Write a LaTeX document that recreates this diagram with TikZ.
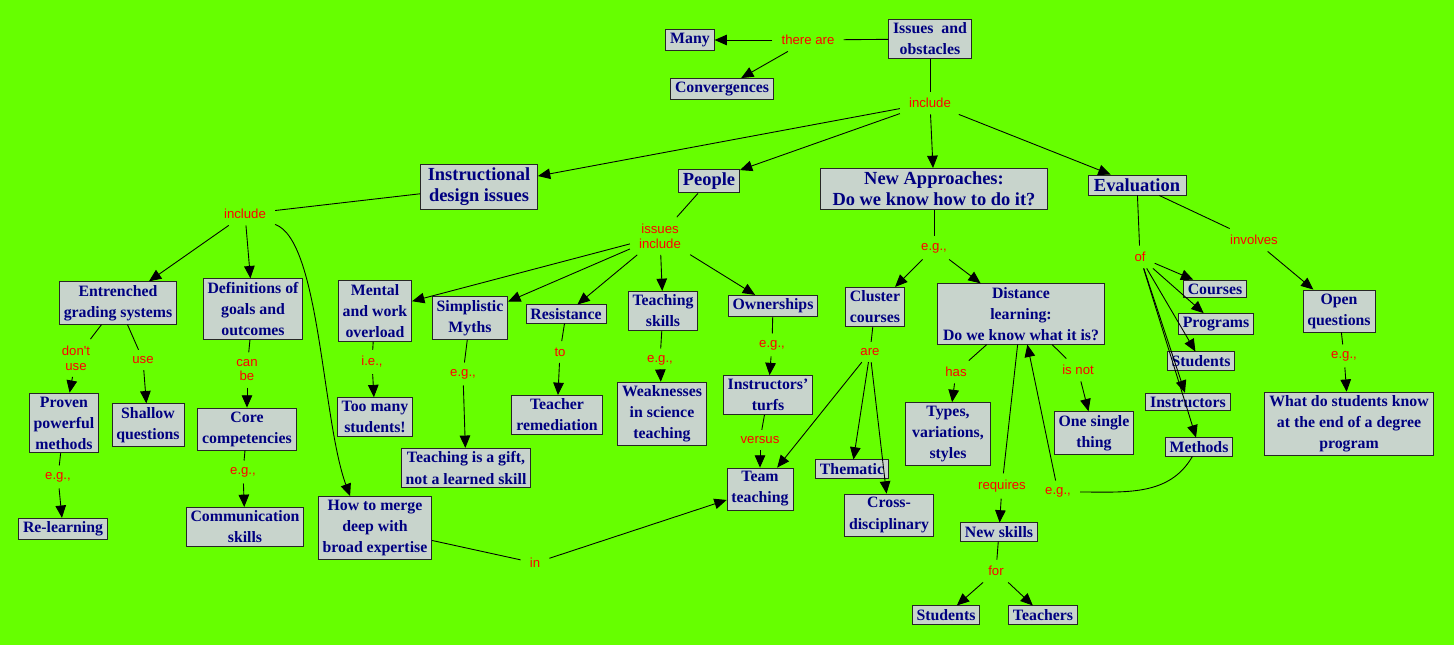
\documentclass[tikz,border=0pt]{standalone}
\usepackage{fontspec}
\setmainfont{Liberation Serif}
\newfontfamily\linkfont{Liberation Sans}
\usetikzlibrary{arrows.meta}
\definecolor{mapgreen}{RGB}{102,255,0}
\definecolor{conceptgrey}{RGB}{200,212,204}
\definecolor{conceptblue}{RGB}{0,0,128}

\tikzset{
  concept/.style={draw=black!85, fill=conceptgrey, text=conceptblue, align=center,
    font=\bfseries\fontsize{9}{12}\selectfont, inner xsep=2.5pt, inner ysep=2pt},
  bigconcept/.style={concept, font=\bfseries\fontsize{10.5}{12}\selectfont},
  linkword/.style={text=red, align=center, font=\linkfont\fontsize{7.5}{8.5}\selectfont,
    inner xsep=5pt, inner ysep=3.5pt},
  arr/.style={-{Triangle[length=7pt,width=6pt]}}
}

\begin{document}
\begin{tikzpicture}[x=0.02cm, y=-0.02cm, line width=0.5pt]
% Background
\fill[mapgreen] (0,0) rectangle (1454,645);
\useasboundingbox (0,0) rectangle (1454,645);

% Top concepts
\node[concept] (issues) at (930,39) {Issues\ \ and\\obstacles};
\node[concept] (many) at (690,40) {Many};
\node[concept] (converg) at (722,89) {Convergences};
\node[bigconcept, minimum width=117*0.02cm] (instr) at (479,187) {Instructional\\design issues};
\node[bigconcept] (people) at (709,181) {People};
\node[bigconcept, minimum width=227*0.02cm] (newappr) at (934,189) {New Approaches:\\Do we know how to do it?};
\node[bigconcept, minimum width=98*0.02cm] (eval) at (1137,185) {Evaluation};

% Instructional design branch
\node[concept] (grading) at (118,303) {Entrenched\\grading systems};
\node[concept] (goals) at (253,309) {Definitions of\\goals and\\outcomes};
\node[concept] (proven) at (64,423) {Proven\\powerful\\methods};
\node[concept] (shallow) at (148,425) {Shallow\\questions};
\node[concept] (core) at (247,429) {Core\\competencies};
\node[concept] (relearn) at (63,529) {Re-learning};
\node[concept] (commun) at (245,527) {Communication\\skills};
\node[concept] (merge) at (375,528) {How to merge\\deep with\\broad expertise};

% People branch
\node[concept] (overload) at (375,311) {Mental\\and work\\overload};
\node[concept] (toomany) at (375,417) {Too many\\students!};
\node[concept] (myths) at (470,318) {Simplistic\\Myths};
\node[concept] (gift) at (466,468) {Teaching is a gift,\\not a learned skill};
\node[concept] (resist) at (566,314) {Resistance};
\node[concept] (remed) at (557,415) {Teacher\\remediation};
\node[concept] (tskills) at (663,311) {Teaching\\skills};
\node[concept] (weak) at (662,414) {Weaknesses\\in science\\teaching};
\node[concept] (owner) at (773,306) {Ownerships};
\node[concept] (turfs) at (768,395) {Instructors'\\turfs};
\node[concept] (team) at (760,489) {Team\\teaching};

% New approaches branch
\node[concept] (cluster) at (875,307) {Cluster\\courses};
\node[concept, minimum width=167*0.02cm] (distance) at (1021,314) {Distance\\learning:\\Do we know what it is?};
\node[concept] (thematic) at (852,469) {Thematic};
\node[concept] (crossdis) at (889,515) {Cross-\\disciplinary};
\node[concept, minimum width=85*0.02cm] (types) at (948,434) {Types,\\variations,\\styles};
\node[concept] (single) at (1094,433) {One single\\thing};
\node[concept] (newskills) at (999,532) {New skills};
\node[concept] (nsstud) at (946,615) {Students};
\node[concept] (nsteach) at (1043,615) {Teachers};

% Evaluation branch
\node[concept] (courses) at (1215,289) {Courses};
\node[concept] (programs) at (1216,324) {Programs};
\node[concept] (evstud) at (1201,361) {Students};
\node[concept] (instrs) at (1188,402) {Instructors};
\node[concept] (methods) at (1199,447) {Methods};
\node[concept] (openq) at (1339,311) {Open\\questions};
\node[concept] (degree) at (1349,424) {What do students know\\at the end of a degree\\program};

% Linking words
\node[linkword] (lthere) at (808,40) {there are};
\node[linkword] (lincl) at (930,103) {include};
\node[linkword] (lincl2) at (245,214) {include};
\node[linkword] (lissincl) at (660,236) {issues\\include};
\node[linkword] (legnew) at (934,248) {e.g.,};
\node[linkword] (lof) at (1140,257) {of};
\node[linkword] (linvolves) at (1254,240) {involves};
\node[linkword] (ldont) at (76,358) {don't\\use};
\node[linkword] (luse) at (143,360) {use};
\node[linkword] (lcan) at (247,370) {can\\be};
\node[linkword] (legproven) at (58,477) {e.g.,};
\node[linkword] (legcore) at (243,472) {e.g.,};
\node[linkword] (lie) at (372,362) {i.e.,};
\node[linkword] (legmyths) at (463,374) {e.g.,};
\node[linkword] (lto) at (560,352) {to};
\node[linkword] (legskills) at (660,360) {e.g.,};
\node[linkword] (legowner) at (772,345) {e.g.,};
\node[linkword] (lversus) at (760,440) {versus};
\node[linkword] (lin) at (535,563) {in};
\node[linkword] (lare) at (870,352) {are};
\node[linkword] (lhas) at (956,372) {has};
\node[linkword] (lisnot) at (1078,370) {is not};
\node[linkword] (lreq) at (1002,486) {requires};
\node[linkword] (legdist) at (1058,492) {e.g.,};
\node[linkword] (lfor) at (996,571) {for};
\node[linkword] (legopen) at (1344,356) {e.g.,};

% Connectors from the top
\draw (issues) -- (lthere);
\draw[arr] (lthere) -- (many);
\draw[arr] (lthere) -- (converg);
\draw (issues) -- (lincl);
\foreach \t in {instr,people,newappr,eval}
  \draw[arr] (lincl) -- (\t);

% Instructional design connectors
\draw (instr) -- (lincl2);
\foreach \t in {grading,goals}
  \draw[arr] (lincl2) -- (\t);
\draw[arr] (lincl2) .. controls (320,240) and (322,420) .. (merge.128);
\draw (grading) -- (ldont);
\draw[arr] (ldont) -- (proven);
\draw (grading) -- (luse);
\draw[arr] (luse) -- (shallow);
\draw (goals) -- (lcan);
\draw[arr] (lcan) -- (core);
\draw (core) -- (legcore);
\draw[arr] (legcore) -- (commun);
\draw (proven) -- (legproven);
\draw[arr] (legproven) -- (relearn);
\draw (merge) -- (lin);
\draw[arr] (lin) -- (team);

% People connectors
\draw (people) -- (lissincl);
\foreach \t in {overload,myths,resist,tskills,owner}
  \draw[arr] (lissincl) -- (\t);
\draw (overload) -- (lie);
\draw[arr] (lie) -- (toomany);
\draw (myths) -- (legmyths);
\draw[arr] (legmyths) -- (gift);
\draw (resist) -- (lto);
\draw[arr] (lto) -- (remed);
\draw (tskills) -- (legskills);
\draw[arr] (legskills) -- (weak);
\draw (owner) -- (legowner);
\draw[arr] (legowner) -- (turfs);
\draw (turfs) -- (lversus);
\draw[arr] (lversus) -- (team);

% New approaches connectors
\draw (newappr) -- (legnew);
\foreach \t in {cluster,distance}
  \draw[arr] (legnew) -- (\t);
\draw (cluster) -- (lare);
\foreach \t in {thematic,crossdis,team}
  \draw[arr] (lare) -- (\t);
\draw (distance) -- (lhas);
\draw[arr] (lhas) -- (types);
\draw (distance) -- (lisnot);
\draw[arr] (lisnot) -- (single);
\draw (distance) -- (lreq);
\draw[arr] (lreq) -- (newskills);
\draw (newskills) -- (lfor);
\foreach \t in {nsstud,nsteach}
  \draw[arr] (lfor) -- (\t);
\draw (methods.235) to[out=240,in=0] (legdist);
\draw[arr] (legdist) -- (distance);

% Evaluation connectors
\draw (eval) -- (lof);
\foreach \t in {courses,programs,evstud,instrs,methods}
  \draw[arr] (lof) -- (\t);
\draw (eval) -- (linvolves);
\draw[arr] (linvolves) -- (openq);
\draw (openq) -- (legopen);
\draw[arr] (legopen) -- (degree);
\end{tikzpicture}
\end{document}
